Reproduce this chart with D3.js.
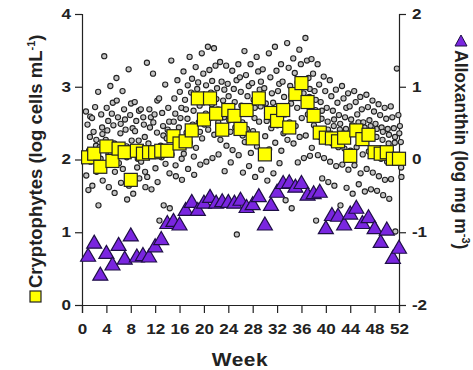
<!DOCTYPE html>
<html>
<head>
<meta charset="utf-8">
<script src="https://cdn.jsdelivr.net/npm/d3@7"></script>
<style>
  body { margin: 0; background: #fff; }
  svg text { font-family: "Liberation Sans", Arial, sans-serif; font-weight: bold; fill: #222; }
</style>
</head>
<body>
<div id="chart"></div>
<script>
// weeks of the year
const weeks = d3.range(1, 53);
const weekTicks = d3.range(0, 53, 4);
const leftTicks = [0, 1, 2, 3, 4];
const rightTicks = [-2, -1, 0, 1, 2];

// weekly mean cryptophytes (log cells mL-1)
const cryptoMean = [2.03, 2.08, 1.90, 2.18, 1.98, 2.15, 2.10, 1.72, 2.12, 2.08, 2.10, 2.10, 2.12,
  2.12, 2.32, 2.22, 2.25, 2.40, 2.84, 2.55, 2.84, 2.63, 2.41, 2.68, 2.60, 2.42,
  2.68, 2.29, 2.84, 2.07, 2.64, 2.53, 2.68, 2.44, 2.90, 3.05, 2.79, 2.60, 2.37,
  2.30, 2.29, 2.25, 2.30, 2.05, 2.40, 2.28, 2.34, 2.10, 2.08, 2.10, 2.01, 2.01];

// weekly alloxanthin (log mg m-3)
const alloxanthin = [-1.33, -1.15, -1.59, -1.29, -1.45, -1.18, -1.37, -1.05, -1.34, -1.32, -1.34, -1.20, -1.10,
  -0.88, -0.85, -0.90, -0.70, -0.59, -0.70, -0.60, -0.52, -0.60, -0.58, -0.59, -0.60, -0.56,
  -0.66, -0.62, -0.51, -0.90, -0.63, -0.45, -0.33, -0.32, -0.38, -0.33, -0.49, -0.47, -0.45,
  -0.95, -0.77, -0.78, -0.90, -0.75, -0.67, -0.88, -0.80, -0.95, -1.14, -0.97, -1.36, -1.22];

// individual samples per week (log cells mL-1), one row per week
const cryptoSamples = [
  [2.66, 2.31, 2.48, 1.97, 2.12, 1.78, 1.58, 2.59],
  [2.57, 2.19, 2.38, 1.83, 2.72, 1.64, 2.04, 2.27],
  [2.93, 2.44, 2.17, 1.71, 2.62, 1.37, 2.01, 2.35],
  [3.42, 2.53, 2.27, 1.62, 2.40, 1.92, 2.71, 2.08],
  [3.01, 2.22, 2.63, 1.83, 2.47, 2.09, 2.78, 1.54],
  [3.12, 2.36, 2.58, 1.68, 2.14, 2.81, 1.95, 2.49],
  [2.94, 2.18, 2.69, 1.45, 2.41, 1.87, 2.55, 2.03],
  [3.24, 2.43, 2.61, 1.53, 2.26, 1.64, 2.77, 2.12],
  [2.79, 2.26, 2.53, 1.74, 2.01, 2.39, 1.89, 2.67],
  [2.69, 2.31, 2.14, 1.62, 2.48, 1.97, 2.58, 1.83],
  [3.33, 2.58, 2.22, 1.59, 2.44, 1.76, 2.69, 2.05],
  [3.18, 2.37, 2.62, 1.69, 2.13, 2.51, 1.88, 2.81],
  [2.84, 2.46, 2.19, 1.37, 2.64, 1.16, 2.03, 2.33],
  [3.03, 2.52, 2.29, 1.33, 2.71, 1.94, 2.41, 1.81],
  [3.36, 2.63, 2.36, 1.77, 2.84, 2.07, 2.52, 1.92],
  [3.09, 2.71, 2.44, 1.72, 2.57, 2.18, 2.93, 2.01],
  [3.21, 2.56, 2.82, 1.87, 2.37, 2.08, 2.69, 3.02],
  [3.41, 2.67, 2.92, 1.79, 2.48, 2.23, 3.11, 2.04],
  [3.27, 2.74, 2.97, 1.93, 2.51, 2.16, 3.06, 2.38],
  [3.46, 2.63, 3.18, 1.97, 2.87, 2.29, 2.48, 3.02],
  [3.55, 2.76, 3.23, 2.02, 2.92, 2.41, 2.57, 3.08],
  [3.53, 2.69, 3.29, 2.07, 2.98, 2.34, 2.83, 2.51],
  [3.34, 2.58, 3.07, 1.84, 2.81, 2.27, 2.46, 2.96],
  [3.29, 2.72, 3.04, 1.96, 2.54, 2.19, 2.87, 2.38],
  [3.22, 2.63, 2.97, 0.97, 2.44, 2.13, 2.79, 3.09],
  [3.31, 2.51, 3.13, 1.82, 2.74, 2.06, 2.93, 2.33],
  [3.49, 2.68, 3.16, 1.91, 2.87, 2.24, 2.42, 3.01],
  [3.31, 2.57, 3.05, 1.76, 2.82, 2.09, 2.39, 2.71],
  [3.41, 2.73, 3.21, 1.86, 2.96, 2.18, 2.52, 3.07],
  [3.24, 2.53, 2.98, 1.71, 2.77, 2.08, 2.32, 2.64],
  [3.46, 2.64, 3.13, 1.81, 2.91, 2.14, 2.43, 2.78],
  [3.55, 2.71, 3.22, 1.95, 2.94, 2.23, 2.47, 3.04],
  [3.31, 2.62, 3.07, 1.44, 2.86, 2.12, 2.36, 2.73],
  [3.60, 2.77, 3.26, 1.33, 3.01, 2.27, 2.51, 2.88],
  [3.39, 2.71, 3.19, 1.96, 2.93, 2.22, 2.46, 3.06],
  [3.51, 2.83, 3.31, 2.02, 3.07, 2.31, 2.57, 2.91],
  [3.67, 2.86, 3.36, 2.05, 3.12, 2.33, 2.62, 2.97],
  [3.38, 2.68, 3.18, 1.16, 2.94, 2.16, 2.47, 2.82],
  [3.31, 2.56, 3.03, 1.74, 2.79, 2.06, 2.31, 2.67],
  [3.14, 2.52, 2.94, 1.69, 2.71, 2.02, 2.26, 2.41],
  [3.09, 2.46, 2.87, 1.64, 2.67, 1.97, 2.22, 2.55],
  [2.96, 2.41, 2.78, 1.37, 2.61, 1.91, 2.17, 2.49],
  [3.01, 2.42, 2.84, 1.61, 2.58, 1.93, 2.15, 2.71],
  [2.91, 2.36, 2.73, 1.53, 2.55, 1.86, 2.12, 2.47],
  [2.94, 2.41, 2.79, 1.66, 2.62, 1.92, 2.17, 2.51],
  [2.86, 2.32, 2.69, 1.56, 2.51, 1.81, 2.07, 2.44],
  [2.89, 2.37, 2.72, 1.59, 2.54, 1.87, 2.11, 2.46],
  [2.81, 2.31, 2.66, 1.57, 2.49, 1.82, 2.06, 2.42],
  [2.76, 2.27, 2.61, 1.51, 2.44, 1.77, 2.01, 2.38],
  [2.71, 2.22, 2.56, 1.46, 2.42, 1.72, 1.97, 2.34],
  [2.73, 2.23, 2.58, 1.01, 2.43, 1.73, 1.98, 2.31],
  [3.25, 2.24, 2.61, 1.76, 2.46, 2.01, 2.36, 1.89]
];
// sampling day within the week, in weeks, for each of the 8 columns above
const dayOffset = [-0.35, 0.3, -0.1, 0.4, 0.15, -0.3, 0.05, 0.35];

const W = 473, H = 370;

const svg = d3.select('#chart').append('svg')
  .attr('width', W).attr('height', H);

const x = d3.scaleLinear().domain([0, 52]).range([82, 399]);
const yL = d3.scaleLinear().domain([0, 4]).range([305, 14]);
const yR = d3.scaleLinear().domain([-2, 2]).range([305, 14]);

// axes
const xAxis = svg.append('g').attr('transform', 'translate(0,305)')
  .call(d3.axisBottom(x).tickValues(weekTicks).tickSizeOuter(0).tickSize(8).tickPadding(11));
const lAxis = svg.append('g').attr('transform', 'translate(82,0)')
  .call(d3.axisLeft(yL).tickValues(leftTicks).tickSizeOuter(0).tickSize(7).tickPadding(8).tickFormat(d3.format('d')));
const rAxis = svg.append('g').attr('transform', 'translate(399,0)')
  .call(d3.axisRight(yR).tickValues(rightTicks).tickSizeOuter(0).tickSize(7).tickPadding(7).tickFormat(d => d < 0 ? '-' + Math.abs(d) : d));

[xAxis, lAxis, rAxis].forEach(a => {
  a.select('.domain').attr('stroke', '#222').attr('stroke-width', 1.2);
  a.selectAll('.tick line').attr('stroke', '#222').attr('stroke-width', 1.2);
  a.selectAll('text').attr('font-size', 14).attr('fill', '#222')
    .style('font-family', '"Liberation Sans", Arial, sans-serif').style('font-weight', 'bold');
});
xAxis.selectAll('text').attr('transform', 'scale(1.22,1)');
lAxis.selectAll('text').attr('transform', 'scale(1.22,1)').attr('x', -9);
rAxis.selectAll('text').attr('transform', 'scale(1.22,1)').attr('x', 10.6);

// scatter of samples
const samples = [];
cryptoSamples.forEach((vals, i) => vals.forEach((v, j) => samples.push({w: weeks[i] + dayOffset[j], v})));
svg.append('g').selectAll('circle').data(samples).join('circle')
  .attr('cx', d => x(d.w)).attr('cy', d => yL(d.v)).attr('r', 2.6)
  .attr('fill', '#c4c4c4').attr('stroke', '#222').attr('stroke-width', 1.1);

// weekly means (squares)
const sq = 13;
svg.append('g').selectAll('rect').data(weeks).join('rect')
  .attr('x', w => x(w) - sq / 2).attr('y', (w, i) => yL(cryptoMean[i]) - sq / 2)
  .attr('width', sq).attr('height', sq)
  .attr('fill', '#ffff00').attr('stroke', '#222').attr('stroke-width', 1.2);

// alloxanthin (triangles)
const tri = 'M0,-8L7.5,5L-7.5,5Z';
svg.append('g').selectAll('path').data(weeks).join('path')
  .attr('d', tri)
  .attr('transform', (w, i) => `translate(${x(w)},${yR(alloxanthin[i])})`)
  .attr('fill', '#7a26e0').attr('stroke', '#1e0f45').attr('stroke-width', 1.2);

// x label
svg.append('text').attr('x', 240).attr('y', 366).attr('text-anchor', 'middle')
  .attr('font-size', 19).attr('transform', 'translate(240,0) scale(1.1,1) translate(-240,0)')
  .attr('letter-spacing', 0.5).text('Week');

// left label with legend square
const lg = svg.append('g').attr('transform', 'translate(42,302) rotate(-90)');
lg.append('rect').attr('x', 0).attr('y', -12).attr('width', 11).attr('height', 11)
  .attr('fill', '#ffff00').attr('stroke', '#222').attr('stroke-width', 1.2);
const lt = lg.append('text').attr('x', 14).attr('y', 0).attr('font-size', 18.5);
lt.append('tspan').text('Cryptophytes (log cells mL');
lt.append('tspan').attr('dy', -7).attr('font-size', 11).text('-1');
lt.append('tspan').attr('dy', 7).text(')');

// legend triangle for the right label (drawn upright)
svg.append('path').attr('d', 'M0,-6L6,5L-6,5Z')
  .attr('transform', 'translate(461,41)')
  .attr('fill', '#7a26e0').attr('stroke', '#1e0f45');
const rg = svg.append('g').attr('transform', 'translate(455,50) rotate(90)');
const rt = rg.append('text').attr('x', 0).attr('y', 0).attr('font-size', 17.5);
rt.append('tspan').text('Alloxanthin (log mg m');
rt.append('tspan').attr('dy', -7).attr('font-size', 11).text('-3');
rt.append('tspan').attr('dy', 7).text(')');
</script>
</body>
</html>
